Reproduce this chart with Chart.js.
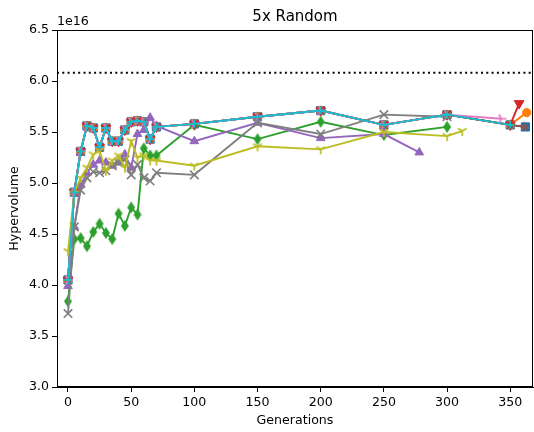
<!DOCTYPE html>
<html>
<head>
<meta charset="utf-8">
<style>body { margin: 0; background: #fff; }</style>
</head>
<body>
<canvas id="_chart" width="534" height="432"></canvas>

<script src="https://cdn.jsdelivr.net/npm/chart.js"></script>
<script>
// generations sampled by every run
const gens = [0, 5, 10, 15, 20, 25, 30, 35, 40, 45, 50, 55, 60, 65, 70, 100, 150, 200, 250, 300, 350];

// runs that overlap up to gen 350 (values in units of 1e16)
const shared = [4.05, 4.91, 5.31, 5.56, 5.54, 5.35, 5.54, 5.41, 5.41, 5.52, 5.60, 5.61, 5.60, 5.43, 5.55, 5.58, 5.65, 5.71, 5.57, 5.67, 5.57];

const blueEnd   = { x: 362, y: 5.55 };
const orangeEnd = { x: 363, y: 5.69 };
const redEnd    = { x: 357, y: 5.78 };
const brownEnd  = { x: 361, y: 5.55 };
const pinkEnd   = { x: 343, y: 5.63 };

const greenVals  = [3.84, 4.45, 4.46, 4.38, 4.52, 4.60, 4.51, 4.45, 4.70, 4.58, 4.76, 4.69, 5.34, 5.27, 5.27, 5.57, 5.43, 5.60, 5.47, 5.55];
const purpleVals = [3.99, 4.57, 4.98, 5.10, 5.18, 5.22, 5.20, 5.17, 5.20, 5.28, 5.15, 5.48, 5.52, 5.64, 5.56, 5.41, 5.59, 5.44, 5.48];
const purpleEnd  = { x: 278, y: 5.30 };
const grayVals   = [3.72, 4.57, 4.93, 5.05, 5.11, 5.10, 5.12, 5.17, 5.20, 5.23, 5.08, 5.18, 5.05, 5.02, 5.10, 5.08, 5.59, 5.48, 5.67, 5.65];
const oliveVals  = [4.33, 4.90, 5.05, 5.15, 5.28, 5.32, 5.12, 5.22, 5.27, 5.15, 5.41, 5.25, 5.27, 5.22, 5.22, 5.17, 5.36, 5.33, 5.50, 5.46];
const oliveEnd   = { x: 312, y: 5.51 };

const refLevel = 6.08;
const yTicks = [3.0, 3.5, 4.0, 4.5, 5.0, 5.5, 6.0, 6.5];
const xTicks = [0, 50, 100, 150, 200, 250, 300, 350];

const pts = (ys, end) => {
	const out = ys.map((y, i) => ({ x: gens[i], y }));
	if (end) out.push(end);
	return out;
};

// little marker canvases for shapes chart.js lacks
function marker(size, draw) {
	const c = document.createElement('canvas');
	c.width = c.height = size;
	const g = c.getContext('2d');
	g.translate(size / 2, size / 2);
	draw(g, size / 2 - 1);
	return c;
}
const triDown = col => marker(12, (g, r) => {
	g.strokeStyle = col; g.lineWidth = 1.7;
	g.beginPath();
	g.moveTo(0, 0); g.lineTo(0, r);
	g.moveTo(0, 0); g.lineTo(-r * 0.87, -r * 0.5);
	g.moveTo(0, 0); g.lineTo(r * 0.87, -r * 0.5);
	g.stroke();
});
const triRight = col => marker(12, (g, r) => {
	g.strokeStyle = col; g.lineWidth = 1.7;
	g.beginPath();
	g.moveTo(0, 0); g.lineTo(r, 0);
	g.moveTo(0, 0); g.lineTo(-r * 0.5, -r * 0.87);
	g.moveTo(0, 0); g.lineTo(-r * 0.5, r * 0.87);
	g.stroke();
});
const thinDiamond = col => marker(14, (g, r) => {
	g.fillStyle = col;
	g.beginPath();
	g.moveTo(0, -r); g.lineTo(r * 0.66, 0); g.lineTo(0, r); g.lineTo(-r * 0.66, 0);
	g.closePath(); g.fill();
});
const star = col => marker(13, (g, r) => {
	g.fillStyle = col;
	g.beginPath();
	for (let i = 0; i < 10; i++) {
		const a = -Math.PI / 2 + i * Math.PI / 5;
		const rr = i % 2 ? r * 0.42 : r;
		g.lineTo(Math.cos(a) * rr, Math.sin(a) * rr);
	}
	g.closePath(); g.fill();
});

function series(data, color, style, radius, extra) {
	return Object.assign({
		data,
		borderColor: color,
		backgroundColor: color,
		pointBorderColor: color,
		pointBackgroundColor: color,
		borderWidth: 1.9,
		pointStyle: style,
		pointRadius: radius,
		pointBorderWidth: 1,
		tension: 0,
		fill: false
	}, extra || {});
}

const datasets = [
	series(pts(shared, blueEnd), '#1f77b4', 'rect', 5.8),
	series(pts(shared, orangeEnd), '#ff7f0e', 'circle', 4.2),
	series(pts(greenVals), '#2ca02c', thinDiamond('#2ca02c'), 7),
	series(pts(shared, redEnd), '#d62728', 'triangle', 5.6, { pointRotation: 180 }),
	series(pts(purpleVals, purpleEnd), '#9467bd', 'triangle', 5),
	series(pts(shared, brownEnd), '#8c564b', star('#8c564b'), 7),
	series(pts(shared.slice(0, 20), pinkEnd), '#e377c2', triRight('#e377c2'), 6),
	series(pts(grayVals), '#7f7f7f', 'crossRot', 6, { pointBorderWidth: 1.6 }),
	series(pts(oliveVals, oliveEnd), '#bcbd22', triDown('#bcbd22'), 6),
	series(pts(shared), '#17becf', 'cross', 4, { pointBorderWidth: 1.6 }),
	{
		data: [{ x: -8.7, y: refLevel }, { x: 368, y: refLevel }],
		borderColor: '#000',
		borderWidth: 2,
		borderDash: [2, 3.3],
		pointRadius: 0,
		fill: false
	}
];
// matplotlib draws later series on top
datasets.forEach((d, i) => d.order = datasets.length - i);

const font = { family: 'DejaVu Sans', size: 12.6 };

const frame = {
	id: 'frame',
	afterDraw(c) {
		const { ctx, chartArea: a } = c;
		ctx.save();
		ctx.strokeStyle = '#000';
		ctx.lineWidth = 1;
		ctx.strokeRect(a.left + 0.5, a.top + 0.5, a.right - a.left - 1, a.bottom - a.top - 1);
		ctx.fillStyle = '#000';
		ctx.font = '15px "DejaVu Sans"';
		ctx.textAlign = 'center';
		ctx.textBaseline = 'alphabetic';
		ctx.fillText('5x Random', (a.left + a.right) / 2, 21);
		ctx.font = '12.6px "DejaVu Sans"';
		ctx.textAlign = 'left';
		ctx.fillText('1e16', a.left, 25);
		ctx.restore();
	}
};

var chart = new Chart(_chart, {
	type: 'line',
	data: { datasets },
	plugins: [frame],
	options: {
		responsive: false,
		animation: false,
		devicePixelRatio: 1,
		layout: { autoPadding: false, padding: { top: 30, right: 1, left: 0, bottom: 0 } },
		plugins: { legend: { display: false }, tooltip: { enabled: false } },
		scales: {
			x: {
				type: 'linear',
				min: -8.7,
				max: 368,
				afterBuildTicks: s => { s.ticks = xTicks.map(v => ({ value: v })); },
				afterFit: s => { s.height = 45; },
				ticks: { font, color: '#000', padding: 3, maxRotation: 0 },
				grid: { drawOnChartArea: false, tickLength: 5, color: '#000' },
				border: { color: '#000' },
				title: { display: true, text: 'Generations', font, color: '#000', padding: { top: 2, bottom: 4 } }
			},
			y: {
				min: 3,
				max: 6.5,
				afterBuildTicks: s => { s.ticks = yTicks.map(v => ({ value: v })); },
				afterFit: s => { s.width = 57; },
				ticks: { font, color: '#000', padding: 3, callback: v => v.toFixed(1) },
				grid: { drawOnChartArea: false, tickLength: 5, color: '#000' },
				border: { color: '#000' },
				title: { display: true, text: 'Hypervolume', font, color: '#000', padding: { top: 7, bottom: 4 } }
			}
		}
	}
});
</script>
</body>
</html>
